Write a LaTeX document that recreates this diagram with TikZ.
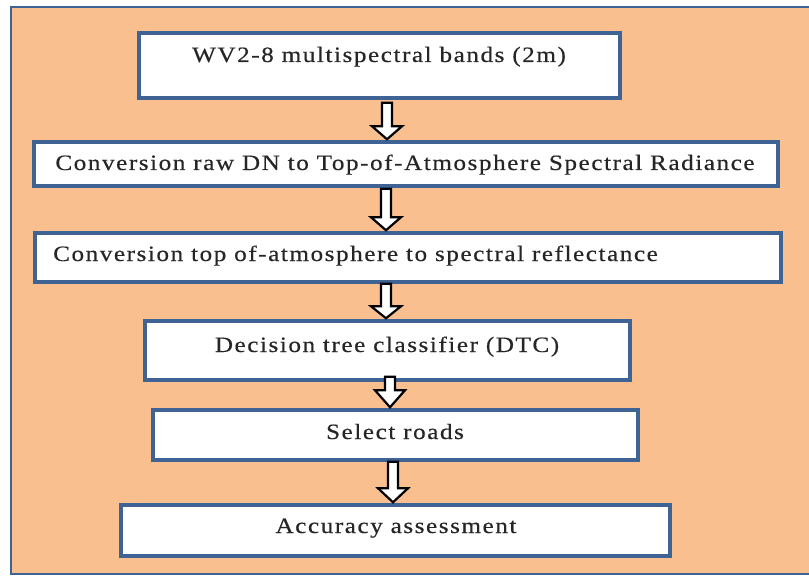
\documentclass[tikz,border=0pt]{standalone}
\usepackage{fontspec}
\setmainfont{Liberation Serif}[LetterSpace=7, FakeStretch=1.15, FakeBold=0.4]
\usetikzlibrary{calc}
\definecolor{peach}{HTML}{F9BF8F}
\definecolor{frameblue}{HTML}{3F6395}
\tikzset{
  box/.style={draw=frameblue, line width=3.5pt, fill=white, rectangle, inner sep=0pt},
  lbl/.style={anchor=base, inner sep=0pt, text=black!85, font=\fontsize{22}{26}\selectfont},
  blk/.style={draw=black, line width=2.2pt, fill=white, line join=miter},
}
\begin{document}
\begin{tikzpicture}[x=1bp,y=-1bp]
\useasboundingbox (0,0) rectangle (809,576);
\fill[white] (0,0) rectangle (809,576);
\draw[frameblue, line width=3pt, fill=peach] (11,7) rectangle (830,574);
% boxes
\node[box, minimum width=481bp, minimum height=65bp] (b1) at (379.5,65.5) {};
\node[box, minimum width=744bp, minimum height=44bp] (b2) at (406,164) {};
\node[box, minimum width=746bp, minimum height=49bp] (b3) at (408,257.5) {};
\node[box, minimum width=485bp, minimum height=59bp] (b4) at (387.5,350.5) {};
\node[box, minimum width=485bp, minimum height=50bp] (b5) at (395.5,435) {};
\node[box, minimum width=549bp, minimum height=51bp] (b6) at (395.5,530.5) {};
% texts
\node[lbl] (t1) at (379,62) {WV2-8 multispectral bands (2m)};
\node[lbl] (t2) at (405,170) {Conversion raw DN to Top-of-Atmosphere Spectral Radiance};
\node[lbl, anchor=base west] (t3) at (53,261) {Conversion top of-atmosphere to spectral reflectance};
\node[lbl] (t4) at (387,352) {Decision tree classifier (DTC)};
\node[lbl] (t5) at (395,439) {Select roads};
\node[lbl] (t6) at (396,533) {Accuracy assessment};
% block arrows
\foreach \a/\b/\xx/\st/\hl in {b1/b2/387/-3/14, b2/b3/386/-1/14, b3/b4/386/0/13, b4/b5/390/5/18, b5/b6/393/0/15}{
  \draw[blk] let \p1=(\xx,0 |- \a.south), \p2=(\xx,0 |- \b.north) in
    (\x1-5,\y1+\st) -- (\x1+5,\y1+\st) -- (\x1+5,\y2+\hl) -- (\x1+15,\y2+\hl)
      -- (\x1,\y2+1) -- (\x1-15,\y2+\hl) -- (\x1-5,\y2+\hl) -- cycle;
}
\end{tikzpicture}
\end{document}
